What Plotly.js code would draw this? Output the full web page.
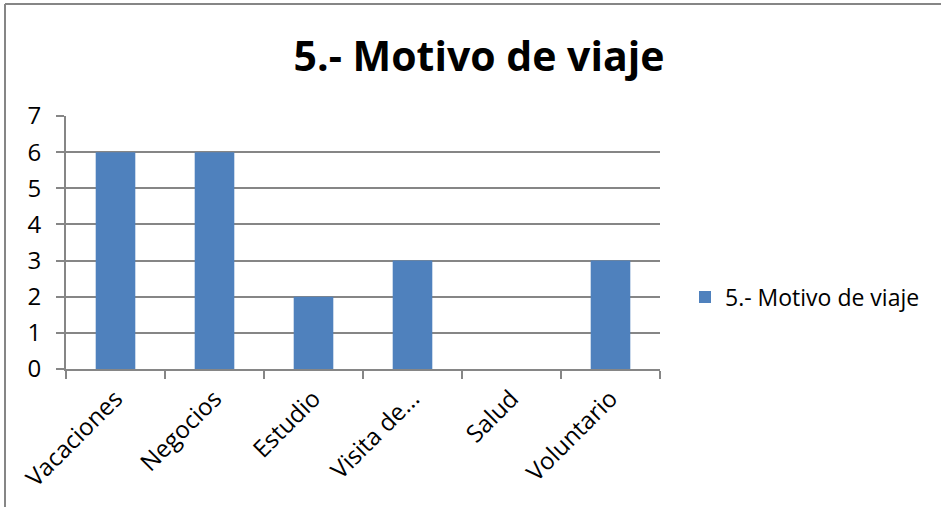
<!DOCTYPE html>
<html>
<head>
<meta charset="utf-8">
<script src="https://cdn.plot.ly/plotly-3.0.1.min.js"></script>
<style>
html,body{margin:0;padding:0;background:#fff;}
#chart{width:941px;height:507px;}
</style>
</head>
<body>
<div id="chart"></div>
<script>
const categories = ["Vacaciones", "Negocios", "Estudio", "Visita de...", "Salud", "Voluntario"];
const values = [6, 6, 2, 3, 0, 3];
const seriesName = "5.- Motivo de viaje";
const chartTitle = "5.- Motivo de viaje";
const yTicks = [0, 1, 2, 3, 4, 5, 6, 7];

const W = 941, H = 507;
const L = 66, R = 660, T = 116, B = 369;
const px = x => (x - L) / (R - L);
const py = y => (B - y) / (B - T);
const FONT = "'Open Sans', 'Noto Sans', sans-serif";

const trace = {
  type: "bar",
  x: categories,
  y: values,
  name: seriesName,
  marker: {color: "#4F81BD"},
  showlegend: true
};

const layout = {
  width: W, height: H,
  margin: {l: L, r: W - R, t: T, b: H - B, pad: 0},
  paper_bgcolor: "#fff",
  plot_bgcolor: "#fff",
  font: {family: FONT, color: "#000", size: 24},
  title: {
    text: "<b>" + chartTitle + "</b>",
    font: {family: FONT, size: 41, color: "#000"},
    x: px(479), xanchor: "center", xref: "paper",
    y: 1 - 57 / H, yanchor: "middle", yref: "container"
  },
  bargap: 0.6,
  xaxis: {
    type: "category",
    tickson: "boundaries",
    ticks: "outside", ticklen: 8, tickcolor: "#868686", tickwidth: 2,
    tickangle: -45,
    showline: true, linecolor: "#868686", linewidth: 2,
    showgrid: false, zeroline: false,
    tickfont: {size: 24},
    ticklabelstandoff: 4
  },
  yaxis: {
    range: [0, 7],
    tickvals: yTicks,
    ticks: "outside", ticklen: 8, tickcolor: "#868686", tickwidth: 2,
    showline: true, linecolor: "#868686", linewidth: 2,
    showgrid: true, gridcolor: "#868686", gridwidth: 2,
    zeroline: false,
    tickfont: {size: 24},
    ticklabelstandoff: 10
  },
  legend: {
    x: px(685), xanchor: "left",
    y: py(297), yanchor: "middle",
    font: {size: 23},
    borderwidth: 0,
    bgcolor: "rgba(0,0,0,0)"
  },
  shapes: [
    {type: "line", xref: "paper", yref: "paper", x0: px(5), x1: px(941), y0: py(4), y1: py(4), line: {color: "#868686", width: 2}},
    {type: "line", xref: "paper", yref: "paper", x0: px(5), x1: px(5), y0: py(4), y1: py(507), line: {color: "#868686", width: 2}}
  ]
};

Plotly.newPlot("chart", [trace], layout, {displayModeBar: false, staticPlot: true});
</script>
</body>
</html>
